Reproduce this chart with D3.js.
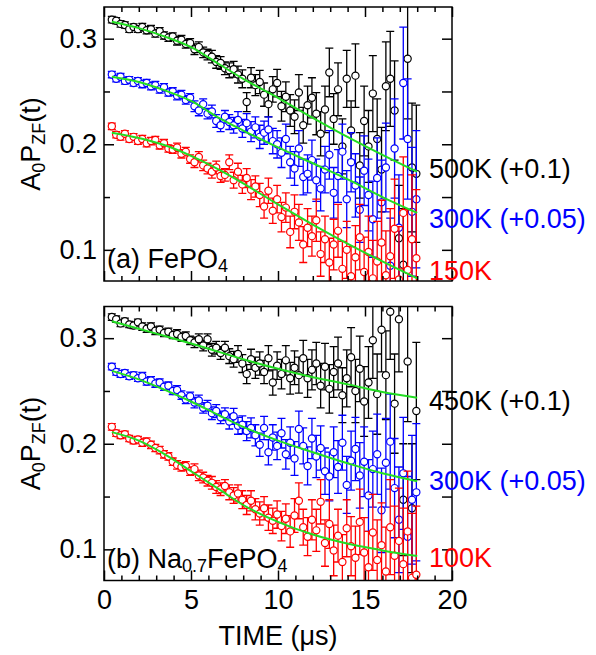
<!DOCTYPE html>
<html>
<head>
  <meta charset="UTF-8" />
  <script src="https://d3js.org/d3.v7.min.js"></script>
  <style>
    body { margin: 0; background: #fff; }
    text { font-family: "Liberation Sans", Arial, Helvetica, sans-serif; }
  </style>
</head>
<body>
<script>
  var width = 596, height = 655;
  var left = 104, right = 452;
  var panelTops = [7, 306.5], panelH = 274;

  // time bins (us)
  var times = [
    0.45,0.70,0.95,1.20,1.45,1.70,1.95,2.20,2.45,2.70,
    2.95,3.20,3.45,3.70,3.95,4.20,4.45,4.70,4.95,5.20,
    5.45,5.70,5.95,6.20,6.45,6.70,6.95,7.20,7.45,7.70,
    7.95,8.20,8.45,8.70,8.95,9.20,9.45,9.70,9.95,10.20,
    10.45,10.70,10.95,11.20,11.45,11.70,11.95,12.20,12.45,12.70,
    12.95,13.20,13.45,13.70,13.95,14.20,14.45,14.70,14.95,15.20,
    15.45,15.70,15.95,16.20,16.45,16.70,16.95,17.20,17.45,17.70,
    17.95];
  // error bar half lengths
  var errBars = [
    0.003,0.003,0.003,0.003,0.003,0.003,0.003,0.0035,0.0035,0.0035,
    0.0035,0.0035,0.0035,0.0035,0.0035,0.004,0.004,0.004,0.004,0.005,
    0.005,0.005,0.005,0.006,0.006,0.006,0.006,0.007,0.0075,0.008,
    0.0085,0.009,0.0095,0.010,0.011,0.011,0.012,0.012,0.013,0.014,
    0.014,0.015,0.016,0.017,0.017,0.018,0.019,0.020,0.021,0.022,
    0.023,0.024,0.025,0.026,0.027,0.028,0.030,0.031,0.033,0.034,
    0.036,0.038,0.040,0.042,0.045,0.047,0.050,0.053,0.057,0.061,
    0.065];

  // (a) FePO4
  var fepo4_500K = [
    0.318,0.317,0.314,0.313,0.309,0.311,0.309,0.311,0.308,0.309,
    0.305,0.307,0.303,0.301,0.302,0.298,0.299,0.295,0.296,0.290,
    0.292,0.287,0.285,0.283,0.278,0.277,0.272,0.270,0.271,0.266,
    0.262,0.240,0.263,0.256,0.259,0.247,0.238,0.252,0.258,0.236,
    0.245,0.232,0.226,0.249,0.218,0.237,0.244,0.229,0.210,0.233,
    0.268,0.224,0.252,0.198,0.262,0.213,0.265,0.180,0.222,0.198,
    0.248,0.205,0.176,0.255,0.262,0.232,0.111,0.086,0.281,0.178,
    0.172];
  var fepo4_300K = [
    0.266,0.262,0.264,0.260,0.261,0.258,0.260,0.257,0.258,0.255,
    0.256,0.252,0.254,0.249,0.250,0.246,0.247,0.242,0.244,0.236,
    0.232,0.238,0.229,0.231,0.222,0.218,0.226,0.221,0.218,0.223,
    0.215,0.220,0.212,0.216,0.207,0.211,0.214,0.203,0.200,0.192,
    0.205,0.183,0.177,0.196,0.169,0.172,0.185,0.166,0.158,0.176,
    0.190,0.154,0.170,0.193,0.148,0.183,0.161,0.138,0.175,0.152,
    0.129,0.168,0.145,0.178,0.085,0.196,0.121,0.258,0.205,0.136,
    0.148];
  var fepo4_150K = [
    0.217,0.209,0.207,0.210,0.205,0.207,0.203,0.205,0.201,0.203,
    0.204,0.199,0.201,0.196,0.195,0.197,0.191,0.193,0.186,0.183,
    0.188,0.180,0.177,0.174,0.178,0.170,0.171,0.183,0.166,0.174,
    0.162,0.168,0.157,0.160,0.152,0.141,0.156,0.137,0.148,0.131,
    0.140,0.117,0.136,0.126,0.105,0.121,0.113,0.128,0.096,0.110,
    0.088,0.105,0.118,0.082,0.100,0.075,0.093,0.112,0.079,0.098,
    0.073,0.089,0.107,0.076,0.094,0.120,0.072,0.135,0.081,0.110,
    0.092];

  // (b) Na0.7FePO4
  var na_450K = [
    0.320,0.318,0.314,0.316,0.313,0.312,0.315,0.311,0.309,0.311,
    0.307,0.308,0.305,0.306,0.303,0.304,0.301,0.302,0.298,0.296,
    0.299,0.293,0.299,0.289,0.291,0.286,0.291,0.283,0.280,0.285,
    0.276,0.266,0.280,0.272,0.276,0.268,0.281,0.258,0.274,0.266,
    0.279,0.262,0.272,0.265,0.281,0.262,0.270,0.276,0.255,0.273,
    0.252,0.268,0.276,0.246,0.262,0.282,0.250,0.271,0.240,0.258,
    0.298,0.247,0.308,0.265,0.325,0.238,0.318,0.147,0.278,0.139,
    0.231];
  var na_300K = [
    0.273,0.268,0.266,0.267,0.264,0.265,0.262,0.264,0.259,0.260,
    0.257,0.258,0.254,0.255,0.250,0.251,0.246,0.242,0.245,0.239,
    0.241,0.234,0.236,0.229,0.231,0.225,0.228,0.221,0.226,0.217,
    0.218,0.212,0.215,0.208,0.199,0.215,0.192,0.206,0.198,0.210,
    0.190,0.201,0.186,0.214,0.198,0.179,0.205,0.188,0.196,0.174,
    0.169,0.192,0.178,0.201,0.161,0.184,0.195,0.170,0.183,0.151,
    0.176,0.190,0.137,0.182,0.202,0.158,0.128,0.172,0.112,0.147,
    0.154];
  var na_100K = [
    0.216,0.210,0.208,0.209,0.205,0.203,0.204,0.201,0.202,0.199,
    0.196,0.194,0.190,0.188,0.183,0.180,0.178,0.179,0.174,0.176,
    0.170,0.168,0.165,0.163,0.159,0.157,0.160,0.154,0.151,0.153,
    0.147,0.142,0.146,0.138,0.134,0.139,0.130,0.127,0.133,0.122,
    0.129,0.117,0.132,0.146,0.121,0.112,0.128,0.118,0.145,0.106,
    0.124,0.099,0.113,0.088,0.120,0.103,0.092,0.126,0.097,0.083,
    0.116,0.090,0.104,0.079,0.121,0.094,0.108,0.086,0.117,0.073,
    0.076];

  // fitted curves (green)
  var fitTimes = [0.45, 2, 3.5, 5, 6.6, 8, 10, 12, 14.1, 16, 18];
  var fitA_500K = [0.316, 0.310, 0.302, 0.292, 0.276, 0.262, 0.244, 0.225, 0.206, 0.190, 0.174];
  var fitA_300K = [0.264, 0.259, 0.251, 0.241, 0.225, 0.213, 0.197, 0.182, 0.166, 0.150, 0.135];
  var fitA_150K = [0.211, 0.206, 0.199, 0.189, 0.176, 0.163, 0.143, 0.124, 0.105, 0.089, 0.073];
  var fitB_450K = [0.316, 0.309, 0.302, 0.295, 0.287, 0.280, 0.271, 0.263, 0.256, 0.249, 0.2436];
  var fitB_300K = [0.269, 0.261, 0.251, 0.240, 0.227, 0.216, 0.203, 0.192, 0.181, 0.172, 0.1645];
  var fitB_100K = [0.211, 0.203, 0.190, 0.174, 0.157, 0.142, 0.126, 0.114, 0.105, 0.099, 0.0936];

  var labelsA = ["500K (+0.1)", "300K (+0.05)", "150K"];
  var labelsB = ["450K (+0.1)", "300K (+0.05)", "100K"];
  var colors = ["#000000", "#0000ff", "#ff0000"];
  var yTicksMajor = [0.1, 0.2, 0.3], yTicksMinor = [0.15, 0.25];
  var xTicksMajor = [0, 5, 10, 15, 20];
  var xTicksMinor = [1,2,3,4,6,7,8,9,11,12,13,14,16,17,18,19];

  var svg = d3.select("body").append("svg")
    .attr("width", width).attr("height", height);

  var x = d3.scaleLinear().domain([0, 20]).range([left, right]);

  function styleAxis(g) {
    g.select(".domain").remove();
    g.selectAll("line").attr("stroke", "#000").attr("stroke-width", 1.5);
    g.selectAll("text").attr("font-size", 27).attr("font-family", "Liberation Sans, Arial, sans-serif").attr("fill", "#000");
  }

  function drawPanel(idx, seriesList, fitList, labels, labelRows, nameParts, showXLabels) {
    var top = panelTops[idx], bottom = top + panelH;
    var y = d3.scaleLinear().domain([0.0705, 0.33]).range([bottom, top]);

    var clipId = "clip" + idx;
    svg.append("clipPath").attr("id", clipId).append("rect")
      .attr("x", left).attr("y", top).attr("width", right - left).attr("height", panelH);

    var plot = svg.append("g").attr("clip-path", "url(#" + clipId + ")");

    seriesList.forEach(function (vals, si) {
      var pts = vals.map(function (v, i) { return { t: times[i], v: v, e: errBars[i] }; });
      var g = plot.append("g");
      g.selectAll("path").data(pts).join("path")
        .attr("fill", "none").attr("stroke", colors[si]).attr("stroke-width", 1.3)
        .attr("d", function (d) {
          var xx = x(d.t), y0 = y(d.v - d.e), y1 = y(d.v + d.e);
          return "M" + xx + "," + y0 + "V" + y1 +
            "M" + (xx - 4) + "," + y0 + "h8M" + (xx - 4) + "," + y1 + "h8";
        });
      g.selectAll("circle").data(pts).join("circle")
        .attr("cx", function (d) { return x(d.t); })
        .attr("cy", function (d) { return y(d.v); })
        .attr("r", 3.6)
        .attr("fill", "#fff").attr("stroke", colors[si]).attr("stroke-width", 1.2);
    });

    var line = d3.line()
      .x(function (d) { return x(d[0]); })
      .y(function (d) { return y(d[1]); })
      .curve(d3.curveMonotoneX);
    fitList.forEach(function (f) {
      plot.append("path")
        .datum(fitTimes.map(function (t, i) { return [t, f[i]]; }))
        .attr("fill", "none").attr("stroke", "#22dd22").attr("stroke-width", 2)
        .attr("d", line);
    });

    // frame
    svg.append("rect").attr("x", left).attr("y", top)
      .attr("width", right - left).attr("height", panelH)
      .attr("fill", "none").attr("stroke", "#000").attr("stroke-width", 1.5);

    // axes, ticks pointing inward
    svg.append("g").attr("transform", "translate(" + left + ",0)")
      .call(d3.axisLeft(y).tickValues(yTicksMajor).tickSize(-10).tickPadding(7).tickFormat(d3.format(".1f")))
      .call(styleAxis);
    svg.append("g").attr("transform", "translate(" + left + ",0)")
      .call(d3.axisLeft(y).tickValues(yTicksMinor).tickSize(-6).tickFormat(""))
      .call(styleAxis);
    svg.append("g").attr("transform", "translate(" + right + ",0)")
      .call(d3.axisRight(y).tickValues(yTicksMajor).tickSize(-10).tickFormat(""))
      .call(styleAxis);
    svg.append("g").attr("transform", "translate(" + right + ",0)")
      .call(d3.axisRight(y).tickValues(yTicksMinor).tickSize(-10).tickFormat(""))
      .call(styleAxis);

    svg.append("g").attr("transform", "translate(0," + top + ")")
      .call(d3.axisTop(x).tickValues(xTicksMajor).tickSize(-10).tickFormat(""))
      .call(styleAxis);
    svg.append("g").attr("transform", "translate(0," + top + ")")
      .call(d3.axisTop(x).tickValues(xTicksMinor).tickSize(-5).tickFormat(""))
      .call(styleAxis);
    svg.append("g").attr("transform", "translate(0," + bottom + ")")
      .call(d3.axisBottom(x).tickValues(xTicksMajor).tickSize(-10).tickPadding(9)
        .tickFormat(showXLabels ? d3.format("d") : ""))
      .call(styleAxis);
    svg.append("g").attr("transform", "translate(0," + bottom + ")")
      .call(d3.axisBottom(x).tickValues(xTicksMinor).tickSize(-5).tickFormat(""))
      .call(styleAxis);

    // y axis title A0PZF(t)
    var yl = svg.append("text")
      .attr("transform", "translate(40," + (top + panelH / 2) + ") rotate(-90)")
      .attr("text-anchor", "middle").attr("font-size", 27).attr("fill", "#000");
    yl.append("tspan").text("A");
    yl.append("tspan").text("0").attr("font-size", 18).attr("dy", 5);
    yl.append("tspan").text("P").attr("dy", -5);
    yl.append("tspan").text("ZF").attr("font-size", 18).attr("dy", 5);
    yl.append("tspan").text("(t)").attr("dy", -5);

    // panel name with subscripts
    var nm = svg.append("text")
      .attr("x", 107).attr("y", bottom - 13)
      .attr("font-size", 27).attr("fill", "#000");
    nameParts.forEach(function (p) {
      if (p.sub) {
        nm.append("tspan").text(p.s).attr("font-size", 18).attr("dy", 4);
      } else {
        nm.append("tspan").text(p.s).attr("dy", p.after ? -4 : 0);
      }
    });

    // series labels at right
    labels.forEach(function (l, i) {
      svg.append("text").attr("x", 429).attr("y", labelRows[i])
        .attr("font-size", 27).attr("fill", colors[i]).text(l);
    });
  }

  drawPanel(0, [fepo4_500K, fepo4_300K, fepo4_150K], [fitA_500K, fitA_300K, fitA_150K],
    labelsA, [178, 228, 280],
    [{ s: "(a) FePO" }, { s: "4", sub: true }], false);
  drawPanel(1, [na_450K, na_300K, na_100K], [fitB_450K, fitB_300K, fitB_100K],
    labelsB, [410, 490, 567],
    [{ s: "(b) Na" }, { s: "0.7", sub: true }, { s: "FePO", after: true }, { s: "4", sub: true }], true);

  svg.append("text")
    .attr("x", (left + right) / 2).attr("y", 645)
    .attr("text-anchor", "middle").attr("font-size", 27).attr("fill", "#000")
    .text("TIME (\u03bcs)");
</script>
</body>
</html>
